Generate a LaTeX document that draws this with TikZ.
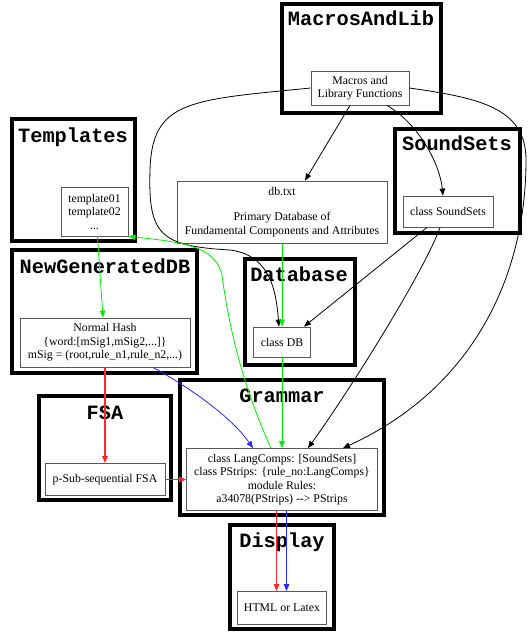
\documentclass[tikz,border=0pt]{standalone}
\usepackage{fontspec}
\setmainfont{Liberation Serif}
\newfontfamily\clusterfont{Liberation Mono}
\usetikzlibrary{arrows.meta}
\definecolor{lgreen}{RGB}{0,235,0}
\definecolor{lred}{RGB}{255,40,40}
\definecolor{lblue}{RGB}{40,40,255}
\begin{document}
\begin{tikzpicture}[x=1pt,y=-1pt,
    cluster/.style={line width=4pt},
    ctitle/.style={font=\clusterfont\bfseries\fontsize{20.3}{22}\selectfont, inner sep=0pt, anchor=base},
    box/.style={draw=black!65, line width=0.8pt, fill=white, align=center, inner sep=0pt,
                font=\fontsize{11.8}{13.5}\selectfont},
    edge/.style={-{Triangle[length=7pt,width=5.5pt]}, line width=0.8pt},
    cedge/.style={edge, line width=1pt}]
    \useasboundingbox (0,0) rectangle (528,635);
    % Cluster
    \foreach \xa/\ya/\xb/\yb/\tx/\ty/\lbl in {282/4/441/113/361/25/MacrosAndLib,
                                          12/119/135/241/73/142/Templates,
                                          395/129/520/233/457/150/SoundSets,
                                          12/250/197/373/105/273/NewGeneratedDB,
                                          245/259/355/365/299/281/Database,
                                          39/396/171/500/105/419/FSA,
                                          180/380/384/515/282/402/Grammar,
                                          230/525/334/629/282/547/Display}{
        \draw [cluster] (\xa,\ya) rectangle (\xb,\yb);
        \node [ctitle] (t\lbl) at (\tx,\ty) {\lbl};
    }
    % Knoten
    \node [box, minimum width=98pt, minimum height=34pt] (macros) at (360,88) {Macros and\\Library Functions};
    \node [box, minimum width=67pt, minimum height=49pt] (templates) at (94.5,211.5) {template01\\template02\\...};
    \node [box, minimum width=210pt, minimum height=62pt] (dbtxt) at (282,212) {db.txt\\[12pt]Primary Database of\\Fundamental Components and Attributes};
    \node [box, minimum width=90pt, minimum height=31pt] (soundsets) at (448,211.5) {class SoundSets};
    \node [box, minimum width=170pt, minimum height=49pt] (hash) at (105,342.5) {Normal Hash\\\{word:[mSig1,mSig2,...]\}\\mSig = (root,rule\_n1,rule\_n2,...)};
    \node [box, minimum width=57pt, minimum height=30pt] (classdb) at (282,342) {class DB};
    \node [box, minimum width=120pt, minimum height=32pt] (fsa) at (105,479.5) {p-Sub-sequential FSA};
    \node [box, minimum width=191pt, minimum height=62pt] (grammar) at (282,479.5) {class LangComps: [SoundSets]\\class PStrips: \{rule\_no:LangComps\}\\module Rules:\\a34078(PStrips) {-}{-}> PStrips};
    \node [box, minimum width=89pt, minimum height=33pt] (display) at (282,608) {HTML or Latex};
    % Kanten
    \draw [edge] ([xshift=-10pt]macros.south) -- ([xshift=23pt]dbtxt.north);
    \draw [edge] ([xshift=27pt]macros.south) .. controls (420,125) and (440,165) .. ([xshift=-5pt]soundsets.north);
    \draw [edge] (macros.west) .. controls (190,100) and (152,100) .. (150,170)
                 .. controls (148,235) and (160,246) .. (230,250)
                 .. controls (270,255) and (276,290) .. ([xshift=-3pt]classdb.north);
    \draw [edge] (macros.east) .. controls (480,98) and (526,108) .. (526,160)
                 .. controls (526,280) and (470,390) .. ([xshift=61pt]grammar.north);
    \draw [edge] ([xshift=-21pt]soundsets.south) -- ([xshift=22pt]classdb.north);
    \draw [edge] ([xshift=-8pt]soundsets.south) .. controls (425,270) and (350,390) .. ([xshift=26pt]grammar.north);
    \draw [cedge, lgreen] (dbtxt.south) -- (classdb.north);
    \draw [cedge, lgreen] (classdb.south) -- (grammar.north);
    \draw [edge, lgreen] ([xshift=-11pt]grammar.north) .. controls (240,380) and (228,320) .. (222,275)
                 .. controls (215,245) and (180,242) .. (templates.south east);
    \draw [edge, lgreen] ([xshift=3pt]templates.south) -- ([xshift=-2pt]hash.north);
    \draw [cedge, lred, line width=1.2pt] (hash.south) -- (fsa.north);
    \draw [cedge, lred] (fsa.east) -- (grammar.west);
    \draw [edge, lblue] ([xshift=48pt]hash.south) .. controls (185,385) and (230,415) .. ([xshift=-29pt]grammar.north);
    \draw [cedge, lred] ([xshift=-5.5pt]grammar.south) -- ([xshift=-5.5pt]display.north);
    \draw [cedge, lblue] ([xshift=4.5pt]grammar.south) -- ([xshift=4.5pt]display.north);
\end{tikzpicture}
\end{document}
